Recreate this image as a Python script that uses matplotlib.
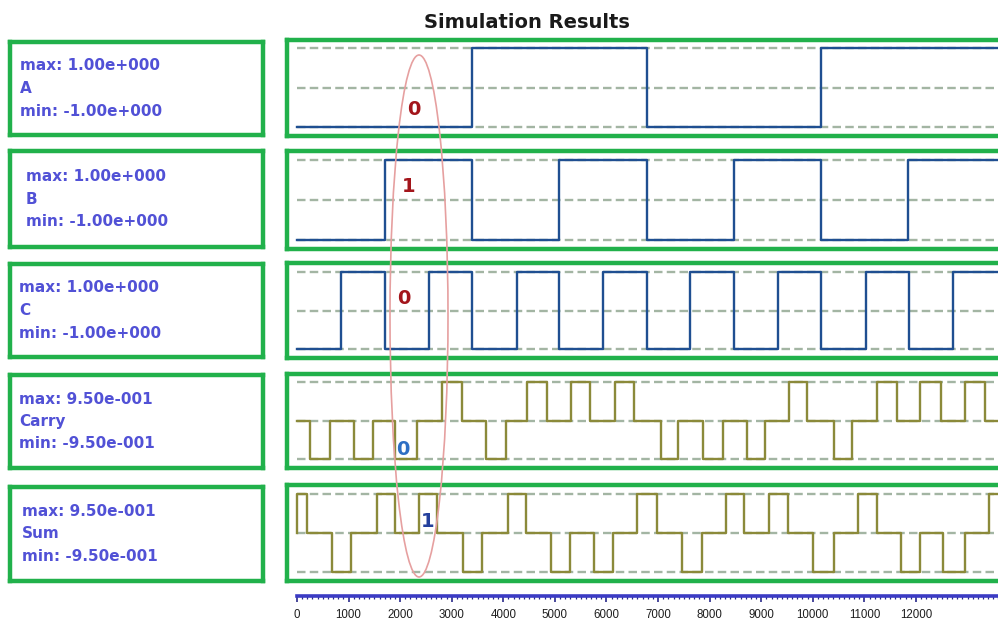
import matplotlib
matplotlib.use("Agg")
import matplotlib.pyplot as plt
from matplotlib.patches import Ellipse
from matplotlib.ticker import FixedLocator, FixedFormatter

# ---------------- data (time units) ----------------
t_end = 13700

a_times = [0, 3390, 6780, 10160]
a_levels = [-1, 1, -1, 1]

b_times = [0, 1700, 3390, 5080, 6780, 8470, 10160, 11850]
b_levels = [-1, 1, -1, 1, -1, 1, -1, 1]

c_times = [0, 850, 1710, 2560, 3390, 4260, 5080, 5930, 6780, 7620, 8480,
           9330, 10160, 11030, 11860, 12720]
c_levels = [-1, 1, -1, 1, -1, 1, -1, 1, -1, 1, -1, 1, -1, 1, -1, 1]

carry_times = [0, 250, 640, 1105, 1475, 1900, 2330, 2810, 3200, 3665, 4050,
               4460, 4850, 5310, 5680, 6165, 6535, 7055, 7385, 7870, 8260,
               8725, 9075, 9540, 9885, 10410, 10760, 11245, 11630, 12080,
               12485, 12950, 13340]
carry_levels = [0, -0.95, 0, -0.95, 0, -0.95, 0, 0.95, 0, -0.95, 0, 0.95, 0,
                0.95, 0, 0.95, 0, -0.95, 0, -0.95, 0, -0.95, 0, 0.95, 0,
                -0.95, 0, 0.95, 0, 0.95, 0, 0.95, 0]

sum_times = [0, 0, 195, 680, 1045, 1550, 1900, 2365, 2715, 3220, 3585, 4090,
             4440, 4925, 5295, 5760, 6125, 6590, 6980, 7465, 7850, 8315, 8665,
             9150, 9520, 10005, 10410, 10875, 11245, 11710, 12080, 12525,
             12950, 13415]
sum_levels = [0, 0.95, 0, -0.95, 0, 0.95, 0, 0.95, 0, -0.95, 0, 0.95, 0,
              -0.95, 0, -0.95, 0, 0.95, 0, -0.95, 0, 0.95, 0, 0.95, 0, -0.95,
              0, 0.95, 0, -0.95, 0, -0.95, 0, 0.95]

names = ["A", "B", "C", "Carry", "Sum"]
max_labels = ["max: 1.00e+000", "max: 1.00e+000", "max: 1.00e+000",
              "max: 9.50e-001", "max: 9.50e-001"]
min_labels = ["min: -1.00e+000", "min: -1.00e+000", "min: -1.00e+000",
              "min: -9.50e-001", "min: -9.50e-001"]
amplitudes = [1.0, 1.0, 1.0, 0.95, 0.95]

tick_values = [0, 1000, 2000, 3000, 4000, 5000, 6000, 7000, 8000, 9000,
               10000, 11000, 12000]
tick_labels = [str(v) for v in tick_values]

# annotations (text, time, level, colour)
marks = [("0", 2268, -0.55, "#a3151b"),
         ("1", 2171, 0.33, "#a3151b"),
         ("0", 2074, 0.32, "#a3151b"),
         ("0", 2055, -0.72, "#2e6fc4"),
         ("1", 2540, 0.27, "#24409c")]

series = [(a_times, a_levels), (b_times, b_levels), (c_times, c_levels),
          (carry_times, carry_levels), (sum_times, sum_levels)]
colors = ["#1f4f91", "#1f4f91", "#1f4f91", "#8b8a3a", "#8b8a3a"]

# ---------------- layout ----------------
W, H = 998, 624
fig = plt.figure(figsize=(W / 100, H / 100), dpi=100)
fig.patch.set_facecolor("white")

GREEN = "#21b14b"
BORDER = 3.2  # pt


def fbox(x0, y0, x1, y1):
    return [x0 / W, 1 - y1 / H, (x1 - x0) / W, (y1 - y0) / H]


right_rows = [(39.5, 136), (151, 249), (263, 358), (374, 467.5), (485, 581)]
left_rows = [(42, 135), (151, 247), (264, 357), (375, 468), (487, 581)]
text_x = [20, 26, 19, 19, 22]

px_per_unit = 0.05158
x0_px, x1_px = 286.5, 1003


def px2t(p):
    return (p - 297) / px_per_unit


xlim = (px2t(x0_px), px2t(x1_px))

for i in range(5):
    # right (waveform) panel
    ya, yb = right_rows[i]
    ax = fig.add_axes(fbox(x0_px, ya, x1_px, yb))
    amp = amplitudes[i]
    ax.set_xlim(*xlim)
    ax.set_ylim(-1.22 * amp, 1.22 * amp)
    ax.hlines([amp, 0, -amp], 0, t_end, colors="#a3b5a3", lw=1.7,
              linestyles=[(0, (3.6, 1.8))], zorder=1)
    tt, lv = series[i]
    ax.step(list(tt) + [t_end], list(lv) + [lv[-1]], where="post",
            color=colors[i], lw=1.7, zorder=3)
    ax.set_xticks([])
    ax.set_yticks([])
    for s in ax.spines.values():
        s.set_color(GREEN)
        s.set_linewidth(BORDER)
    txt, tm, lvl, col = marks[i]
    ax.text(tm, lvl * amp if i < 3 else lvl, txt, color=col, fontsize=14,
            fontweight="bold", ha="center", va="center",
            family="DejaVu Sans", zorder=5)

    # left (label) box
    la, lb = left_rows[i]
    lax = fig.add_axes(fbox(9.5, la, 263.5, lb))
    lax.set_xticks([])
    lax.set_yticks([])
    for s in lax.spines.values():
        s.set_color(GREEN)
        s.set_linewidth(BORDER)
    cy = (la + lb) / 2
    for k, s in enumerate([max_labels[i], names[i], min_labels[i]]):
        yy = cy + (k - 1) * 22.5
        fig.text(text_x[i] / W, 1 - yy / H, s, color="#5151d6",
                 fontsize=11, fontweight="bold", family="DejaVu Sans",
                 ha="left", va="center")

# ---------------- x axis ----------------
xax = fig.add_axes(fbox(x0_px, 588, x1_px, 596))
xax.set_xlim(*xlim)
xax.set_facecolor("none")
for k in ["top", "left", "right"]:
    xax.spines[k].set_visible(False)
xax.spines["bottom"].set_color("#3b3bc4")
xax.spines["bottom"].set_linewidth(2.6)
xax.spines["bottom"].set_bounds(0, xlim[1])
xax.set_yticks([])
xax.xaxis.set_major_locator(FixedLocator(tick_values))
xax.xaxis.set_major_formatter(FixedFormatter(tick_labels))
xax.xaxis.set_minor_locator(FixedLocator(list(range(0, int(xlim[1]), 100))))
xax.tick_params(axis="x", which="major", direction="out", length=4.5,
                width=1.2, color="#2a2a8a", pad=4.5, labelsize=8.3,
                labelcolor="#1e1e1e")
xax.tick_params(axis="x", which="minor", direction="out", length=2.2,
                width=0.9, color="#2a2a8a")
for lab in xax.get_xticklabels():
    lab.set_family("Liberation Sans")

# ---------------- title ----------------
fig.text(527 / W, 1 - 22 / H, "Simulation Results", ha="center", va="center",
         fontsize=14, fontweight="bold", family="DejaVu Sans",
         color="#1a1a1a")

# ---------------- hand-drawn ellipse ----------------
fig.add_artist(Ellipse((419 / W, 1 - 316 / H), 58 / W, 522 / H,
                       transform=fig.transFigure, fill=False,
                       edgecolor="#e6a0a0", lw=1.2, zorder=10))

fig.savefig("out.png", dpi=100)
